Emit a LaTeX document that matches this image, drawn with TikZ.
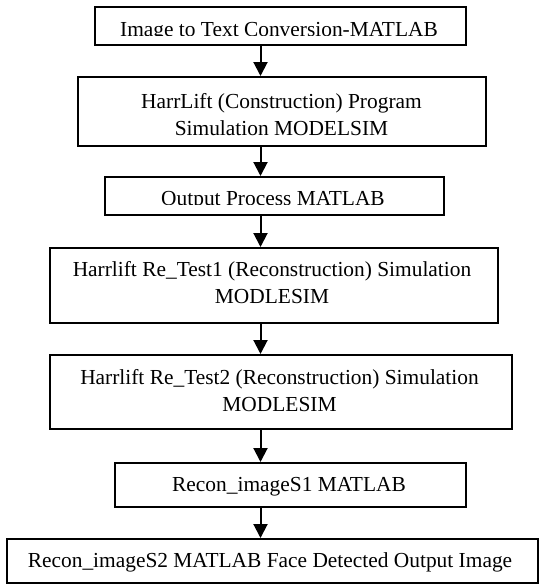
\documentclass[tikz,border=0pt]{standalone}
\usepackage{fontspec}
\setmainfont{Liberation Serif}
\usetikzlibrary{arrows.meta}
\begin{document}
\begin{tikzpicture}[x=1pt,y=-1pt,
  box/.style={draw, line width=2pt, inner sep=0pt, anchor=north west},
  lbl/.style={anchor=base, inner sep=0pt, font=\fontsize{21.4}{26.5}\selectfont, align=center},
  flow/.style={line width=2pt, -{Triangle[width=14pt,length=14pt]}}]
\useasboundingbox (0,0) rectangle (539,584);
\fill[white] (0,0) rectangle (539,584);
% boxes
\node[box, minimum width=371pt, minimum height=38pt] (b1) at (94,6) {};
\node[box, minimum width=408pt, minimum height=69pt] (b2) at (77,76) {};
\node[box, minimum width=339pt, minimum height=38pt] (b3) at (104,176) {};
\node[box, minimum width=448pt, minimum height=75pt] (b4) at (49,247) {};
\node[box, minimum width=462pt, minimum height=74pt] (b5) at (49,354) {};
\node[box, minimum width=351pt, minimum height=44pt] (b6) at (114,462) {};
\node[box, minimum width=531pt, minimum height=44pt] (b7) at (6,538) {};
% texts (base anchor = baseline of the last line)
\begin{scope}
  \clip (94,6) rectangle (465,35.5);
  \node[lbl] (t1) at (279,36.5) {Image to Text Conversion-MATLAB};
\end{scope}
\node[lbl] (t2) at (281.5,135) {HarrLift (Construction) Program\\Simulation MODELSIM};
\begin{scope}
  \clip (104,176) rectangle (443,204.5);
  \node[lbl] (t3) at (273,205.5) {Output Process MATLAB};
\end{scope}
\node[lbl] (t4) at (272,303) {Harrlift Re\_Test1 (Reconstruction) Simulation\\MODLESIM};
\node[lbl] (t5) at (279.5,411) {Harrlift Re\_Test2 (Reconstruction) Simulation\\MODLESIM};
\node[lbl] (t6) at (289,491.5) {Recon\_imageS1 MATLAB};
\node[lbl] (t7) at (270,567) {Recon\_imageS2 MATLAB Face Detected Output Image};
% connectors
\coordinate (ax) at (260.5,0);
\draw[flow] (b1.south -| ax) -- (b2.north -| ax);
\draw[flow] (b2.south -| ax) -- (b3.north -| ax);
\draw[flow] (b3.south -| ax) -- (b4.north -| ax);
\draw[flow] (b4.south -| ax) -- (b5.north -| ax);
\draw[flow] (b5.south -| ax) -- (b6.north -| ax);
\draw[flow] (b6.south -| ax) -- (b7.north -| ax);
\end{tikzpicture}
\end{document}
